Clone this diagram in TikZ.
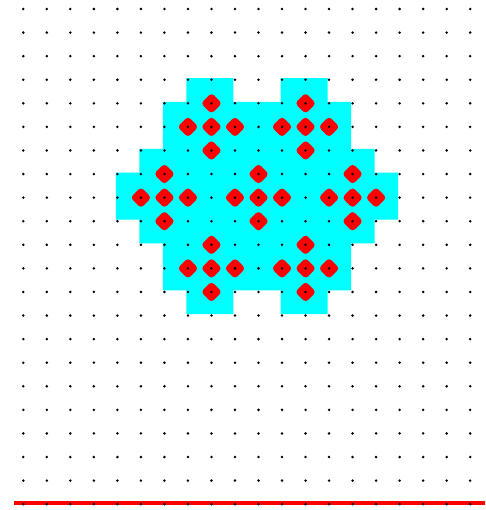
\documentclass[tikz,border=0pt]{standalone}
\usetikzlibrary{calc}
\definecolor{cyanfill}{RGB}{0,255,255}
\definecolor{reddot}{RGB}{255,0,0}
\tikzset{
  gridpt/.style={fill=black},
  region/.style={fill=cyanfill},
  baseline/.style={draw=reddot, line width=4.5pt},
}
\begin{document}
\begin{tikzpicture}[x=1pt,y=-1pt]
\useasboundingbox (0,0) rectangle (485,510);
% cyan region
\fill[region]
  \foreach \p/\q [count=\k] in {7/3,9/3,9/4,11/4,11/3,13/3,13/4,14/4,14/6,15/6,15/7,16/7,16/9,15/9,15/10,14/10,14/12,13/12,13/13,11/13,11/12,9/12,9/13,7/13,7/12,6/12,6/10,5/10,5/9,4/9,4/7,5/7,5/6,6/6,6/4,7/4}{
    \ifnum\k=1 ({23.3+23.52*\p-1.5},{9+23.58*\q-1.5}) \else -- ({23.3+23.52*\p-1.5},{9+23.58*\q-1.5}) \fi
  } -- cycle;
% red diamonds
\foreach \p/\q in {8/4,12/4,
  7/5,8/5,9/5,11/5,12/5,13/5,
  8/6,12/6,
  6/7,10/7,14/7,
  5/8,6/8,7/8,9/8,10/8,11/8,13/8,14/8,15/8,
  6/9,10/9,14/9,
  8/10,12/10,
  7/11,8/11,9/11,11/11,12/11,13/11,
  8/12,12/12}{
  \fill[reddot, rounded corners=3.5pt]
    ({23.3+23.52*\p-10.5},{9+23.58*\q}) -- ({23.3+23.52*\p},{9+23.58*\q-10.5})
    -- ({23.3+23.52*\p+10.5},{9+23.58*\q}) -- ({23.3+23.52*\p},{9+23.58*\q+10.5}) -- cycle;
}
% red base line
\coordinate (lineL) at (14,503);
\coordinate (lineR) at (485,503);
\draw[baseline] (lineL) -- (lineR);
% grid dots
\foreach \p in {0,...,19}{
  \foreach \q in {0,...,21}{
    \fill[gridpt] ({23.3+23.52*\p},{9+23.58*\q}) circle (1.4);
  }
}
\end{tikzpicture}
\end{document}
